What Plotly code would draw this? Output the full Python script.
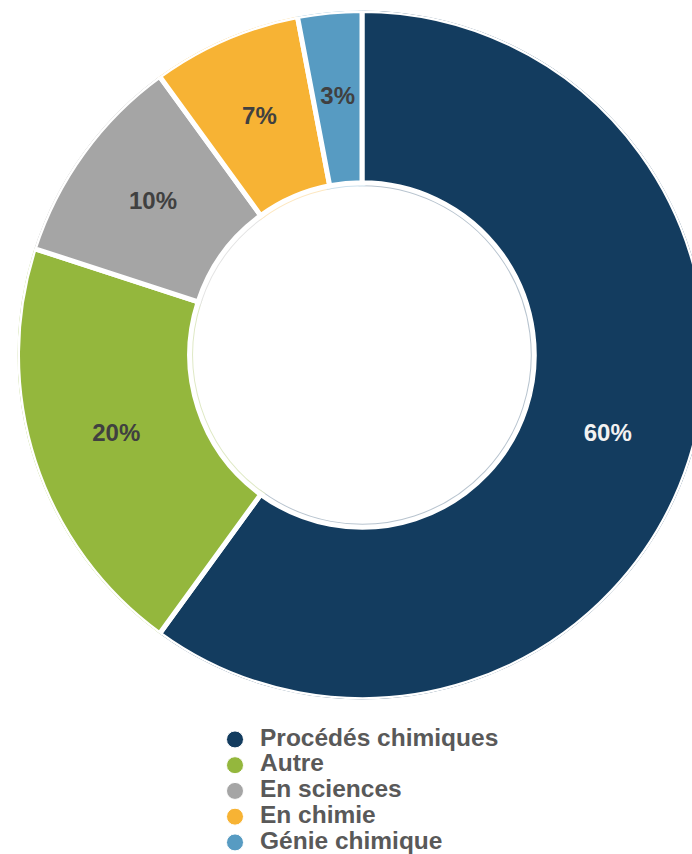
import plotly.graph_objects as go

# Share of respondents by type of training
categories = ["Procédés chimiques", "Autre", "En sciences", "En chimie", "Génie chimique"]
shares = [60, 20, 10, 7, 3]
colors = ["#133C5F", "#94B73D", "#A5A5A5", "#F7B334", "#579BC2"]
label_colors = ["#F2F2F2", "#404040", "#404040", "#404040", "#404040"]

W, H = 724, 854
FONT = "Liberation Sans, Arial, sans-serif"
HOLE = 0.5


def tint(hex_color, amount=0.3):
    """Blend a colour with white, keeping `amount` of the original."""
    h = hex_color.lstrip("#")
    rgb = [int(h[i:i + 2], 16) for i in (0, 2, 4)]
    mixed = [round(255 - (255 - c) * amount) for c in rgb]
    return "#{:02X}{:02X}{:02X}".format(*mixed)


# Angular extent of each slice (degrees, clockwise from the top)
total = sum(shares)
widths = [s * 360 / total for s in shares]
mids = []
acc = 0.0
for w in widths:
    mids.append(acc + w / 2)
    acc += w

ring = dict(theta=mids, width=widths, r=[1 - HOLE] * len(shares), base=HOLE,
            hoverinfo="skip", showlegend=False)

fig = go.Figure()

# Thin pale halo around every slice
fig.add_trace(go.Barpolar(
    **ring,
    marker=dict(color=[tint(c) for c in colors],
                line=dict(color=[tint(c) for c in colors], width=7)),
))

# Donut ring with white separators
fig.add_trace(go.Barpolar(
    **ring,
    marker=dict(color=colors, line=dict(color="white", width=5)),
))

# Percentage labels at mid-ring
fig.add_trace(go.Scatterpolar(
    theta=mids, r=[(1 + HOLE) / 2] * len(shares),
    mode="text",
    text=[f"{s}%" for s in shares],
    textposition="middle center",
    textfont=dict(family=FONT, size=24, color=label_colors, weight="bold"),
    hoverinfo="skip", showlegend=False,
))

# Legend drawn as a small scatter: circle markers and their category names
idx = list(range(len(categories)))
fig.add_trace(go.Scatter(
    x=[0] * len(categories), y=idx, mode="markers",
    marker=dict(size=17, color=colors, line=dict(color="white", width=1)),
    showlegend=False, hoverinfo="skip", xaxis="x", yaxis="y",
))
fig.add_trace(go.Scatter(
    x=[25] * len(categories), y=idx, mode="text",
    text=categories, textposition="middle right",
    textfont=dict(family=FONT, size=24.5, color="#595959", weight="bold"),
    showlegend=False, hoverinfo="skip", xaxis="x", yaxis="y",
))

axis_off = dict(visible=False, showgrid=False, showline=False, showticklabels=False, ticks="")

fig.update_layout(
    width=W, height=H,
    margin=dict(l=0, r=0, t=0, b=0),
    paper_bgcolor="white", plot_bgcolor="rgba(0,0,0,0)",
    polar=dict(
        domain=dict(x=[0, 1], y=[1 - 699.5 / H, 1 - 10.5 / H]),
        bgcolor="rgba(0,0,0,0)",
        bargap=0,
        radialaxis=dict(range=[0, 1], **axis_off),
        angularaxis=dict(rotation=90, direction="clockwise", **axis_off),
    ),
    xaxis=dict(domain=[0, 1], range=[-235, W - 235], visible=False, fixedrange=True),
    yaxis=dict(domain=[0, 1 - 698 / H], range=[4.45, -1.61], visible=False, fixedrange=True),
)

fig.write_html("out.html")
